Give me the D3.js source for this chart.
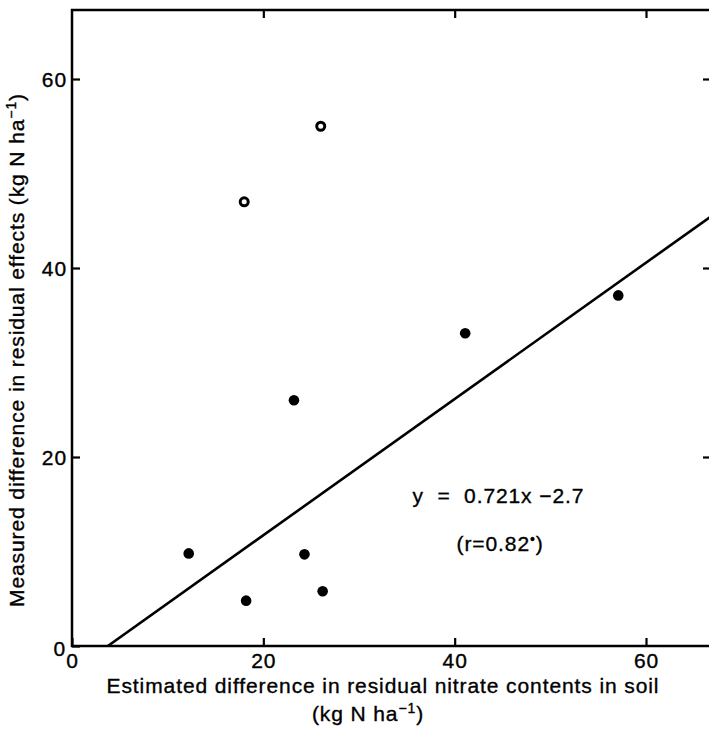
<!DOCTYPE html>
<html>
<head>
<meta charset="utf-8">
<script src="https://cdnjs.cloudflare.com/ajax/libs/d3/7.8.5/d3.min.js"></script>
<style>
  html, body { margin: 0; padding: 0; background: #fff; }
  svg text {
    font-family: "Liberation Sans", Arial, Helvetica, sans-serif;
    fill: #000; stroke: #000; stroke-width: 0.35px;
    letter-spacing: 0.9px;
  }
</style>
</head>
<body>
<svg id="chart" width="709" height="731"></svg>
<script>
// residual effects vs. estimated nitrate difference (kg N/ha)
var filledX = [12.2, 18.2, 23.2, 24.3, 26.2, 41.1, 57.1];
var filledY = [9.8, 4.8, 26.0, 9.7, 5.8, 33.1, 37.1];
var openX = [18.0, 26.0];
var openY = [47.0, 55.0];
var xTicks = [0, 20, 40, 60];
var yTicks = [0, 20, 40, 60];
var fitSlope = 0.721,
    fitIntercept = -2.7;
var fitLabel = 'y = 0.721x \u22122.7';
var corrLabel = '(r=0.82';

var svg = d3.select('#chart');
// note: "top" is taken by window.top, so plot edges get their own names
var plotLeft = 72, plotBottom = 646, plotRight = 711, plotTop = 10;

var x = d3.scaleLinear().domain([0, 60]).range([plotLeft, 646]);
var y = d3.scaleLinear().domain([0, 60]).range([plotBottom, 79]);
var xMax = x.invert(plotRight);

var font = 21, supFont = 14;

// frame
svg.append('rect')
    .attr('x', plotLeft).attr('y', plotTop)
    .attr('width', plotRight - plotLeft).attr('height', plotBottom - plotTop)
    .attr('fill', 'none').attr('stroke', '#000').attr('stroke-width', 2.5);

// ticks (inward) on all four sides
var tickLen = 8;
var xAxis = svg.append('g').attr('transform', 'translate(0,' + plotBottom + ')')
    .call(d3.axisBottom(x).tickValues(xTicks).tickSize(-tickLen));
var yAxis = svg.append('g').attr('transform', 'translate(' + plotLeft + ',0)')
    .call(d3.axisLeft(y).tickValues(yTicks).tickSize(-tickLen).tickPadding(5));
svg.append('g').attr('transform', 'translate(0,' + plotTop + ')')
    .call(d3.axisTop(x).tickValues(xTicks.slice(1)).tickSize(-tickLen).tickFormat(''));
svg.append('g').attr('transform', 'translate(' + plotRight + ',0)')
    .call(d3.axisRight(y).tickValues(yTicks.slice(1)).tickSize(-tickLen).tickFormat(''));

svg.selectAll('.domain').remove();
svg.selectAll('.tick line').attr('stroke', '#000').attr('stroke-width', 2.2);
svg.selectAll('.tick text').attr('font-family', null).attr('font-size', null)
    .style('font-size', font + 'px');

xAxis.selectAll('.tick text').attr('y', 22).attr('dy', null);
yAxis.selectAll('.tick text').attr('dy', '0.36em');
yAxis.selectAll('.tick').filter(function (d) { return d === 0; })
    .select('text').attr('dy', '0.45em').attr('x', -6);

// regression line, clipped to the frame
svg.append('clipPath').attr('id', 'plotClip')
    .append('rect')
    .attr('x', plotLeft).attr('y', plotTop)
    .attr('width', plotRight - plotLeft).attr('height', plotBottom - plotTop);

var x0 = -fitIntercept / fitSlope;
svg.append('line')
    .attr('clip-path', 'url(#plotClip)')
    .attr('x1', x(x0)).attr('y1', y(0))
    .attr('x2', x(xMax)).attr('y2', y(fitSlope * xMax + fitIntercept))
    .attr('stroke', '#000').attr('stroke-width', 2.6);

// points
var filled = d3.zip(filledX, filledY),
    open = d3.zip(openX, openY);

svg.append('g').selectAll('circle').data(filled).enter().append('circle')
    .attr('cx', function (d) { return x(d[0]); })
    .attr('cy', function (d) { return y(d[1]); })
    .attr('r', 5.3)
    .attr('fill', '#000');

svg.append('g').selectAll('circle').data(open).enter().append('circle')
    .attr('cx', function (d) { return x(d[0]); })
    .attr('cy', function (d) { return y(d[1]); })
    .attr('r', 4)
    .attr('fill', '#fff')
    .attr('stroke', '#000').attr('stroke-width', 3);

// equation
svg.append('text')
    .attr('x', x(35.6)).attr('y', y(15.1))
    .style('font-size', font + 'px')
    .attr('xml:space', 'preserve')
    .text(fitLabel.replace(' = ', '  =  '));
var corr = svg.append('text')
    .attr('x', x(40.2)).attr('y', y(10.1))
    .style('font-size', font + 'px');
corr.append('tspan').text(corrLabel);
corr.append('tspan').attr('dy', -7).style('font-size', supFont + 'px').text('\u2022');
corr.append('tspan').attr('dy', 7).text(')');

// axis titles
svg.append('text')
    .attr('x', 383).attr('y', 693)
    .attr('text-anchor', 'middle')
    .style('font-size', font + 'px')
    .text('Estimated difference in residual nitrate contents in soil');
var xUnit = svg.append('text')
    .attr('x', 368).attr('y', 721)
    .attr('text-anchor', 'middle')
    .style('font-size', font + 'px');
xUnit.append('tspan').text('(kg N ha');
xUnit.append('tspan').attr('dy', -8).style('font-size', supFont + 'px').text('\u22121');
xUnit.append('tspan').attr('dy', 8).text(')');

var yTitle = svg.append('text')
    .attr('transform', 'translate(24,350) rotate(-90)')
    .attr('text-anchor', 'middle')
    .style('font-size', font + 'px');
yTitle.append('tspan').text('Measured difference in residual effects (kg N ha');
yTitle.append('tspan').attr('dy', -8).style('font-size', supFont + 'px').text('\u22121');
yTitle.append('tspan').attr('dy', 8).text(')');
</script>
</body>
</html>
